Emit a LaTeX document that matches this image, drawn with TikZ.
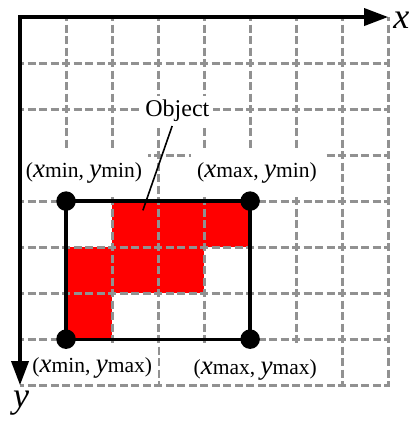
\documentclass[tikz,border=0pt]{standalone}
\usepackage{fontspec}
\setmainfont{Liberation Serif}
\usetikzlibrary{arrows.meta, positioning}
\definecolor{gridgray}{RGB}{145,145,145}
\definecolor{objred}{RGB}{255,0,0}
\newcommand{\ptlbl}[2]{(\textit{\fontsize{27}{29}\selectfont x}#1, \textit{\fontsize{27}{29}\selectfont y}#2)}

\begin{document}
\begin{tikzpicture}[x=46pt, y=-46pt,
    gridline/.style={gridgray, line width=3pt, dash pattern=on 8pt off 3.5pt, dash phase=4pt},
    cell/.style={fill=objred},
    lbl/.style={fill=white, inner xsep=6pt, minimum height=48pt, font=\fontsize{21.5}{24}\selectfont},
    corner/.style={circle, fill=black, minimum size=19.5pt, inner sep=0pt},
    bbox/.style={line width=3.3pt},
    axis/.style={line width=3.5pt, {Triangle[length=24pt, width=17pt]}-{Triangle[length=24pt, width=17pt]}},
]
\useasboundingbox (-0.435,-0.37) rectangle (8.52,8.80);

% occupied cells
\fill[cell] (2,4) rectangle (5,5);
\fill[cell] (1,5) rectangle (4,6);
\fill[cell] (1,6) rectangle (2,7);

% grid
\foreach \i in {1,...,7} {
  \draw[gridline] (\i,0) -- (\i,8);
  \draw[gridline] (0,\i) -- (8,\i);
}

% corner labels
\node[lbl] (lminmin) at (1.39,3.39) {\ptlbl{min}{min}};
\node[lbl] (lmaxmin) at (5.15,3.39) {\ptlbl{max}{min}};
\node[lbl] (lminmax) at (1.57,7.63) {\ptlbl{min}{max}};
\node[lbl] (lmaxmax) at (5.11,7.67) {\ptlbl{max}{max}};

% outer grid border
\draw[gridline] (8,0) -- (8,8) -- (0,8);

% bounding box of the object
\coordinate (tl) at (1,4);
\coordinate (tr) at (5,4);
\coordinate (br) at (5,7);
\coordinate (bl) at (1,7);
\draw[bbox] (tl) -- (tr) -- (br) -- (bl) -- cycle;
\node[corner] (ctl) at (tl) {};
\node[corner] (ctr) at (tr) {};
\node[corner] (cbr) at (br) {};
\node[corner] (cbl) at (bl) {};

% axes
\coordinate (origin) at (0,0);
\coordinate (xend) at (8,0);
\coordinate (yend) at (0,8);
\draw[axis] (xend) -- (origin) -- (yend);
\node[anchor=west, inner sep=0pt, font=\fontsize{36}{40}\selectfont\itshape, xshift=5pt, yshift=-3pt] (xlbl) at (xend) {x};
\node[anchor=north, inner sep=0pt, font=\fontsize{36}{40}\selectfont\itshape, xshift=1pt, yshift=-6pt] (ylbl) at (yend) {y};

% object label
\node[fill=white, inner sep=4pt, font=\fontsize{24}{28}\selectfont] (obj) at (3.42,2.04) {Object};
\coordinate (tip) at (2.67,4.2);
\draw[line width=1.6pt] (obj) -- (tip);

\end{tikzpicture}
\end{document}
